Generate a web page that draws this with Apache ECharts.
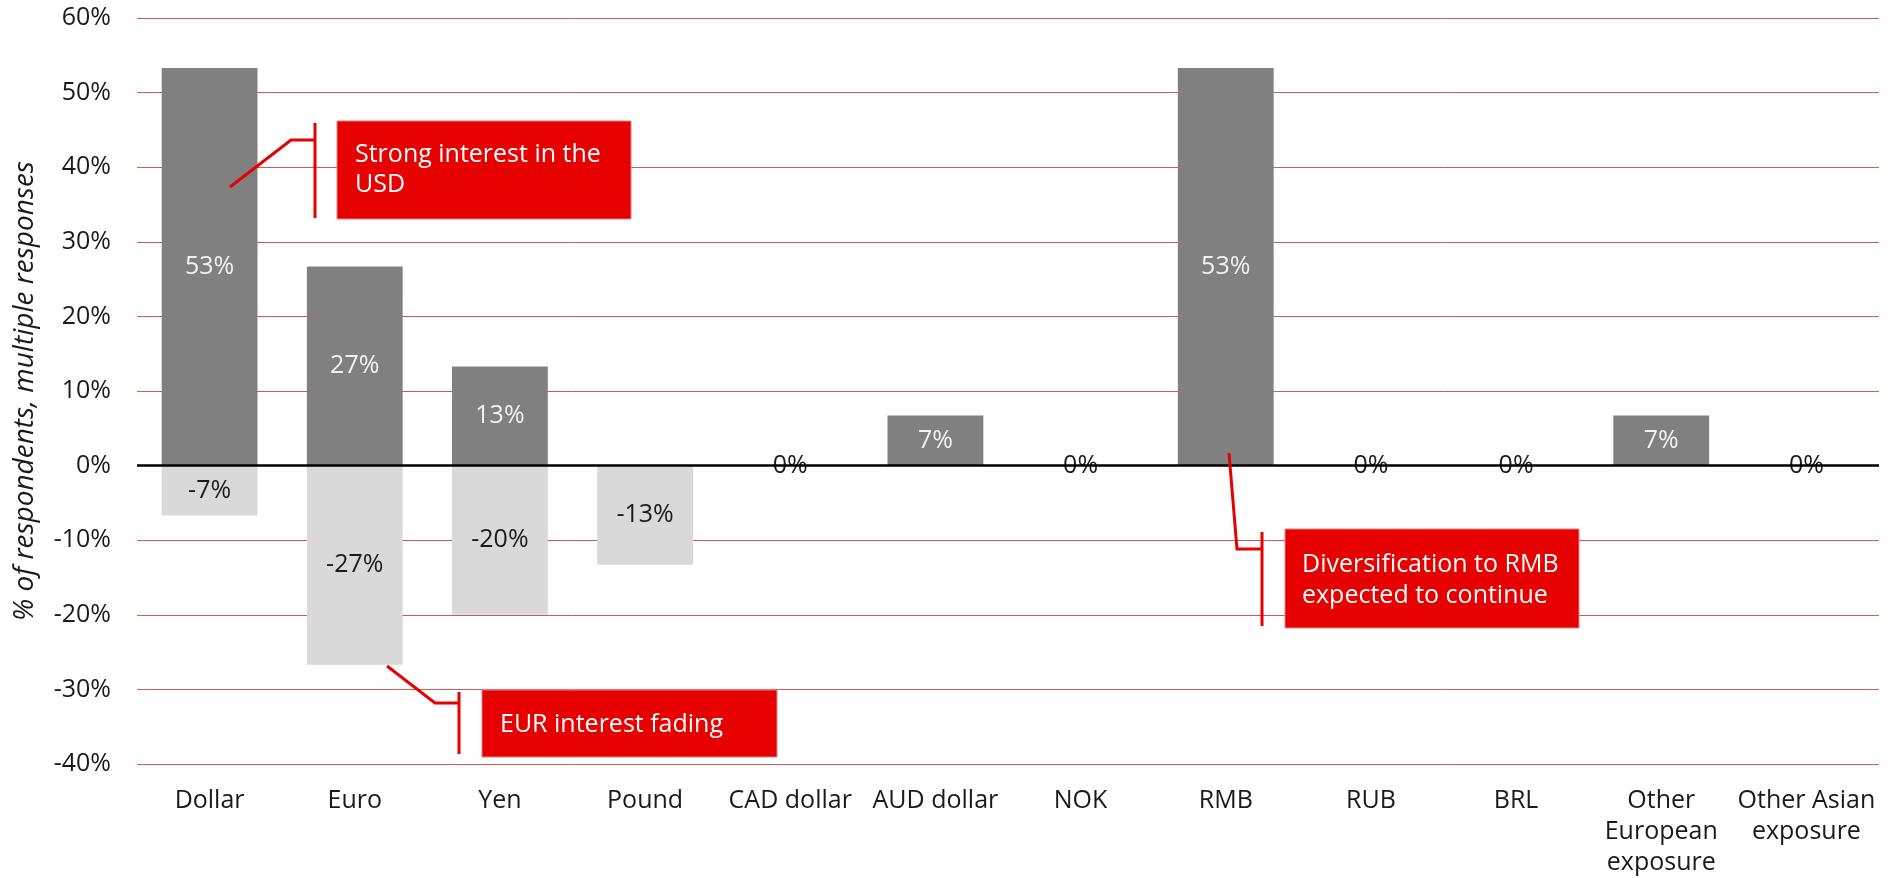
<!DOCTYPE html>
<html lang="en">
  <head>
    <meta charset="UTF-8" />
    <title>currency interest</title>
    <script src="https://cdn.jsdelivr.net/npm/echarts@6/dist/echarts.min.js"></script>
    <style>
      html, body { margin: 0; padding: 0; background: #fff; }
    </style>
  </head>
  <body>
    <div id="main" style="width: 1894px; height: 878px;"></div>
    <script type="text/javascript">
      // categories and values (% of respondents)
      var categories = ["Dollar", "Euro", "Yen", "Pound", "CAD dollar", "AUD dollar", "NOK", "RMB", "RUB", "BRL", "Other\nEuropean\nexposure", "Other Asian\nexposure"];
      var increase = [53.3, 26.7, 13.3, 0, 0, 6.7, 0, 53.3, 0, 0, 6.7, 0];
      var decrease = [-6.7, -26.7, -20, -13.3, 0, 0, 0, 0, 0, 0, 0, 0];
      var yMin = -40, yMax = 60, yStep = 10;

      var font = "'Open Sans', 'Noto Sans', sans-serif";
      var red = "#e60000";
      var fs = 25;

      var myChart = echarts.init(document.getElementById("main"));

      var option = {
        animation: false,
        textStyle: { fontFamily: font },
        grid: { left: 137, right: 15, top: 18, bottom: 107 },
        xAxis: {
          type: "category",
          data: categories,
          axisLine: { show: false, onZero: false },
          axisTick: { show: false },
          axisLabel: {
            color: "#1a1a1a",
            fontSize: fs,
            lineHeight: 31,
            margin: 21,
            interval: 0,
            fontFamily: font
          }
        },
        yAxis: {
          type: "value",
          min: yMin,
          max: yMax,
          interval: yStep,
          name: "% of respondents, multiple responses",
          nameLocation: "middle",
          nameGap: 98,
          nameTextStyle: { fontSize: 28, fontStyle: "italic", color: "#1a1a1a", fontFamily: font },
          axisLine: { show: false },
          axisTick: { show: false },
          axisLabel: {
            color: "#1a1a1a",
            fontSize: fs,
            margin: 26,
            fontFamily: font,
            formatter: function (v) { return Math.round(v) + "%"; }
          },
          splitLine: { lineStyle: { color: "#cc5c55", width: 1 } }
        },
        series: [
          {
            name: "Increase",
            type: "bar",
            data: increase,
            barWidth: "66%",
            barGap: "-100%",
            itemStyle: { color: "#808080" },
            label: {
              show: true,
              position: "inside",
              color: "#f2f2f2",
              fontSize: fs,
              fontFamily: font,
              formatter: function (p) {
                return p.value > 0 ? Math.round(p.value) + "%" : "";
              }
            },
            markLine: {
              silent: true,
              symbol: "none",
              label: { show: false },
              lineStyle: { color: "#000", width: 2.5, type: "solid" },
              data: [{ yAxis: 0 }]
            }
          },
          {
            name: "Decrease",
            type: "bar",
            data: decrease,
            barWidth: "66%",
            itemStyle: { color: "#d9d9d9" },
            label: {
              show: true,
              position: "inside",
              color: "#1a1a1a",
              fontSize: fs,
              fontFamily: font,
              formatter: function (p) {
                if (p.value < 0) return Math.round(p.value) + "%";
                if (increase[p.dataIndex] === 0) return "0%";
                return "";
              }
            }
          }
        ],
        graphic: [
          // Strong interest in the USD
          { type: "polyline", z: 100, shape: { points: [[230, 187], [291, 140], [315, 140]] }, style: { stroke: red, lineWidth: 3, fill: null } },
          { type: "line", z: 100, shape: { x1: 315, y1: 123, x2: 315, y2: 218 }, style: { stroke: red, lineWidth: 3 } },
          { type: "rect", z: 100, shape: { x: 337, y: 121, width: 294, height: 98 }, style: { fill: red, stroke: "#f08080", lineWidth: 1 } },
          { type: "text", z: 101, x: 355, y: 170, style: { text: "Strong interest in the\nUSD", fill: "#fff", font: fs + "px " + font, lineHeight: 30, verticalAlign: "middle" } },
          // EUR interest fading
          { type: "polyline", z: 100, shape: { points: [[387, 666], [435, 703], [459, 703]] }, style: { stroke: red, lineWidth: 3, fill: null } },
          { type: "line", z: 100, shape: { x1: 459, y1: 692, x2: 459, y2: 754 }, style: { stroke: red, lineWidth: 3 } },
          { type: "rect", z: 100, shape: { x: 482, y: 690, width: 295, height: 67 }, style: { fill: red, stroke: "#f08080", lineWidth: 1 } },
          { type: "text", z: 101, x: 500, y: 725, style: { text: "EUR interest fading", fill: "#fff", font: fs + "px " + font, verticalAlign: "middle" } },
          // Diversification to RMB
          { type: "polyline", z: 100, shape: { points: [[1229, 453], [1237, 549], [1262, 549]] }, style: { stroke: red, lineWidth: 3, fill: null } },
          { type: "line", z: 100, shape: { x1: 1262, y1: 532, x2: 1262, y2: 626 }, style: { stroke: red, lineWidth: 3 } },
          { type: "rect", z: 100, shape: { x: 1285, y: 529, width: 294, height: 99 }, style: { fill: red, stroke: "#f08080", lineWidth: 1 } },
          { type: "text", z: 101, x: 1302, y: 580, style: { text: "Diversification to RMB\nexpected to continue", fill: "#fff", font: fs + "px " + font, lineHeight: 31, verticalAlign: "middle" } }
        ]
      };

      myChart.setOption(option);
    </script>
  </body>
</html>
